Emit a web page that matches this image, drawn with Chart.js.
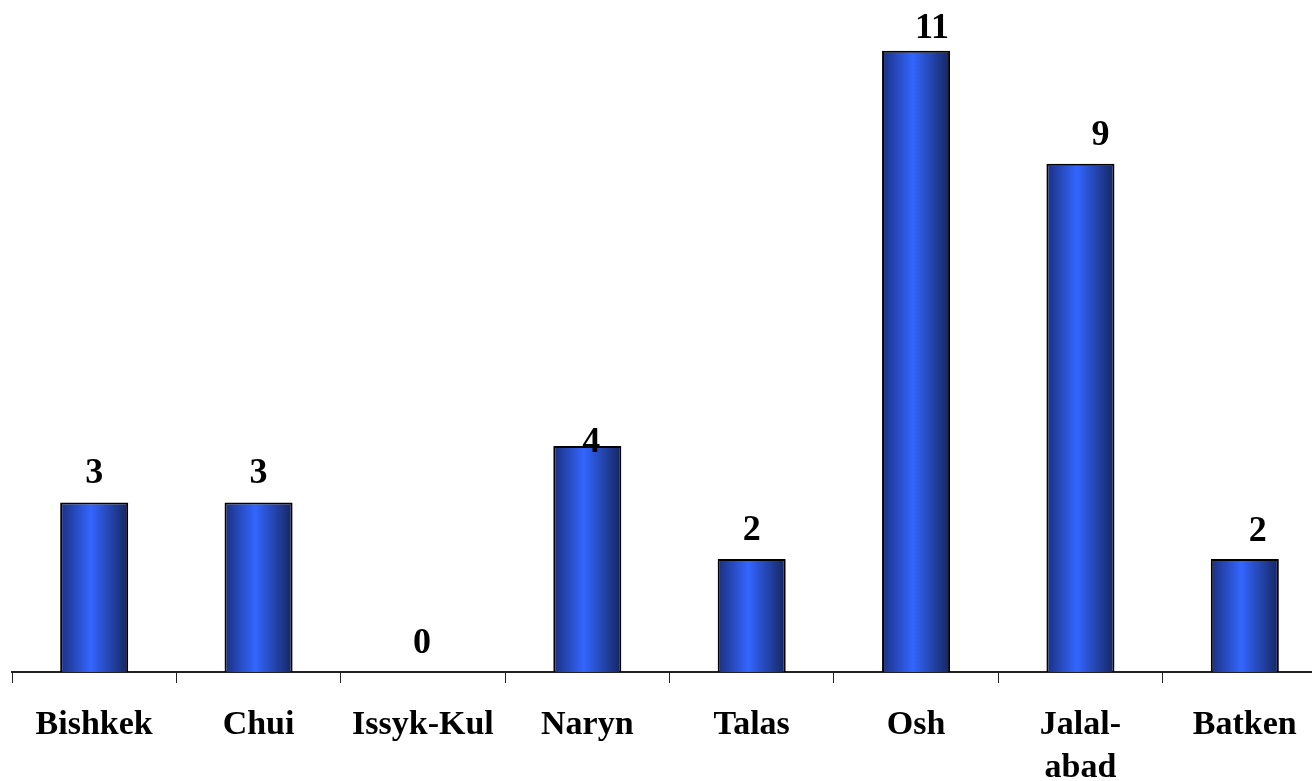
<!DOCTYPE html>
<html>
<head>
<meta charset="utf-8">
<script src="https://cdn.jsdelivr.net/npm/chart.js@4/dist/chart.umd.min.js"></script>
<style>
  html, body { margin: 0; padding: 0; background: #ffffff; overflow: hidden; }
  #wrap { width: 1312px; height: 781px; overflow: hidden; position: relative; }
  canvas { display: block; }
</style>
</head>
<body>
<div id="wrap"><canvas id="c" width="1327" height="781"></canvas></div>
<script>
const categories = ["Bishkek", "Chui", "Issyk-Kul", "Naryn", "Talas", "Osh", ["Jalal-", "abad"], "Batken"];
const values = [3, 3, 0, 4, 2, 11, 9, 2];
const yMax = 11.9;

const FONT = "'Liberation Serif', 'Times New Roman', serif";
const BAR_PCT = 0.414;

function barGradient(ctx) {
  const chart = ctx.chart;
  const xs = chart.scales && chart.scales.x;
  if (!xs || !chart.chartArea || ctx.dataIndex === undefined) return '#3366ff';
  const cx = xs.getPixelForValue(ctx.dataIndex);
  const w = (xs.width / categories.length) * BAR_PCT;
  const g = chart.ctx.createLinearGradient(cx - w / 2, 0, cx + w / 2, 0);
  g.addColorStop(0, '#1b2f80');
  g.addColorStop(0.45, '#3366ff');
  g.addColorStop(1, '#15255f');
  return g;
}

const valueLabels = {
  id: 'valueLabels',
  afterDatasetsDraw(chart, args, opts) {
    const ctx = chart.ctx;
    const meta = chart.getDatasetMeta(0);
    ctx.save();
    ctx.font = opts.font;
    ctx.fillStyle = '#000';
    ctx.textAlign = 'center';
    ctx.textBaseline = 'alphabetic';
    meta.data.forEach((el, i) => {
      const dx = opts.dx[i] || 0;
      const gap = opts.gap[i];
      ctx.fillText(String(values[i]), el.x + dx, el.y - gap);
    });
    ctx.restore();
  }
};

new Chart(document.getElementById('c'), {
  type: 'bar',
  data: {
    labels: categories,
    datasets: [{
      data: values,
      backgroundColor: barGradient,
      borderColor: '#000000',
      borderWidth: 2,
      borderSkipped: 'bottom',
      barPercentage: BAR_PCT,
      categoryPercentage: 1.0
    }]
  },
  options: {
    responsive: false,
    animation: false,
    devicePixelRatio: 1,
    layout: { padding: { left: 12, right: 0, top: 0, bottom: 0 } },
    plugins: {
      legend: { display: false },
      tooltip: { enabled: false },
      valueLabels: {
        font: "bold 36px " + FONT,
        dx: [0, 0, -1, 4, 0, 16, 20, 13],
        gap: [20, 20, 19, -6, 19, 13, 19, 18]
      }
    },
    scales: {
      x: {
        offset: true,
        afterFit(scale) { scale.height = 109; },
        border: { display: true, color: '#222222', width: 2 },
        grid: {
          offset: true,
          drawOnChartArea: false,
          drawTicks: true,
          tickLength: 11,
          color: '#222222',
          lineWidth: 1
        },
        ticks: {
          color: '#000000',
          padding: 21,
          maxRotation: 0,
          autoSkip: false,
          font: { family: FONT, size: 34, weight: 'bold', lineHeight: 1.26 }
        }
      },
      y: {
        display: false,
        min: 0,
        max: yMax
      }
    }
  },
  plugins: [valueLabels]
});
</script>
</body>
</html>
